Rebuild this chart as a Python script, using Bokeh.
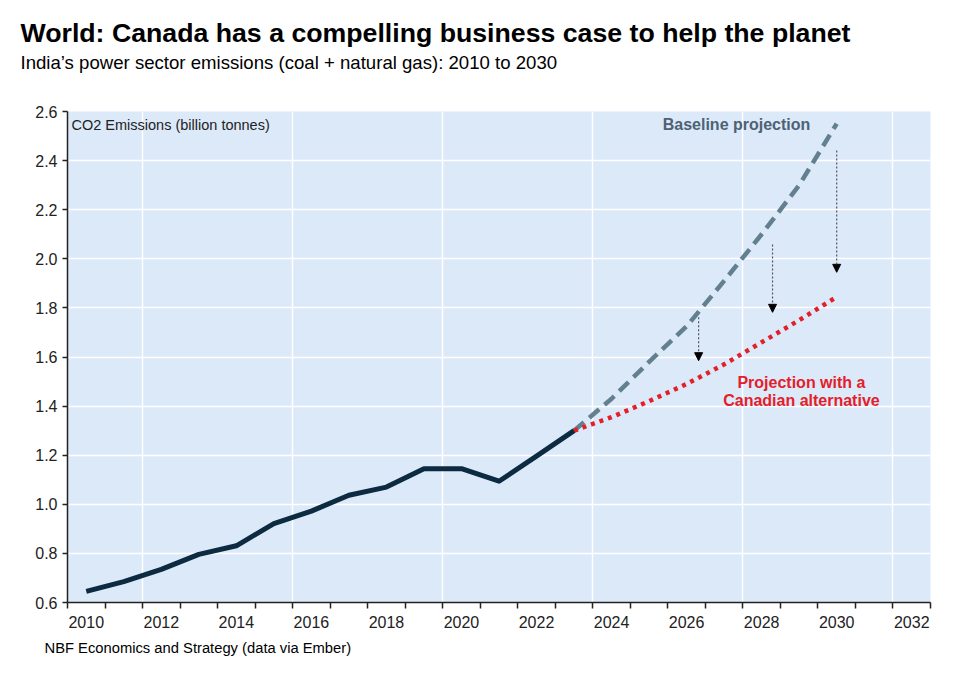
from bokeh.plotting import figure
from bokeh.models import (Range1d, FixedTicker, PrintfTickFormatter, Label, Arrow, NormalHead, Title)
from bokeh.embed import file_html
from bokeh.resources import INLINE

# ---- data ----
hist_years = [2010, 2011, 2012, 2013, 2014, 2015, 2016, 2017, 2018, 2019, 2020, 2021, 2022, 2023]
hist_values = [0.645, 0.685, 0.735, 0.796, 0.831, 0.921, 0.972, 1.037, 1.070, 1.145, 1.145, 1.094, 1.196, 1.300]

proj_years = [2023, 2024, 2025, 2026, 2027, 2028, 2029, 2030]
baseline_values = [1.300, 1.430, 1.580, 1.725, 1.910, 2.100, 2.300, 2.550]
canadian_values = [1.300, 1.355, 1.420, 1.490, 1.570, 1.660, 1.750, 1.845]

x_label_years = [2010, 2012, 2014, 2016, 2018, 2020, 2022, 2024, 2026, 2028, 2030, 2032]
y_ticks = [0.6, 0.8, 1.0, 1.2, 1.4, 1.6, 1.8, 2.0, 2.2, 2.4, 2.6]

# arrows: (x, y_start, y_end)
arrow_x = [2026.32, 2028.29, 2030.0]
arrow_y_start = [1.762, 2.058, 2.441]
arrow_y_end = [1.585, 1.782, 1.945]

title_text = "World: Canada has a compelling business case to help the planet"
subtitle_text = "India\u2019s power sector emissions (coal + natural gas): 2010 to 2030"
source_text = "NBF Economics and Strategy (data via Ember)"
unit_text = "CO2 Emissions (billion tonnes)"

FONT = "Liberation Sans"
BG = "#dce9f9"

W, H = 952, 676
p = figure(width=W, height=H, output_backend="svg", toolbar_location=None,
           x_range=Range1d(2009.5, 2032.5), y_range=Range1d(0.6, 2.6),
           min_border_left=67, min_border_right=22, min_border_top=111, min_border_bottom=74,
           background_fill_color=BG, border_fill_color="white", outline_line_color=None)

# titles (panels stack upward from the frame: spacer, subtitle, title)
p.title.text = title_text
p.title.align = "left"
p.title.offset = -47
p.title.text_font = FONT
p.title.text_font_size = "26.7px"
p.title.text_font_style = "bold"
p.title.text_color = "black"
p.title.standoff = 3.4

p.add_layout(Title(text=" ", text_font_size="1px", standoff=35.5), "above")
p.add_layout(Title(text=subtitle_text, align="left", offset=-47, text_font=FONT,
                   text_font_size="18.6px", text_font_style="normal", text_color="black",
                   standoff=0), "above")
p.add_layout(Title(text=source_text, align="left", offset=-23, text_font=FONT,
                   text_font_size="14.75px", text_font_style="normal", text_color="black",
                   standoff=15), "below")

# grids
p.xgrid.ticker = FixedTicker(ticks=[2011.5, 2015.5, 2019.5, 2023.5, 2027.5, 2031.5])
p.xgrid.grid_line_color = "white"
p.xgrid.grid_line_width = 1.5
p.ygrid.ticker = FixedTicker(ticks=y_ticks)
p.ygrid.grid_line_color = "white"
p.ygrid.grid_line_width = 1.5

# x axis
xa = p.xaxis[0]
xa.ticker = FixedTicker(ticks=x_label_years, minor_ticks=[y - 0.5 for y in range(2010, 2034)])
xa.major_tick_out = 0
xa.major_tick_in = 0
xa.minor_tick_out = 6
xa.minor_tick_in = 0
xa.minor_tick_line_color = "#222222"
xa.minor_tick_line_width = 1.5
xa.axis_line_color = "#222222"
xa.axis_line_width = 1.5
xa.major_label_text_font = FONT
xa.major_label_text_font_size = "16px"
xa.major_label_text_color = "#222222"
xa.major_label_standoff = 7

ya = p.yaxis[0]
ya.ticker = FixedTicker(ticks=y_ticks)
ya.formatter = PrintfTickFormatter(format="%.1f")
ya.major_tick_out = 5
ya.major_tick_in = 0
ya.minor_tick_out = 0
ya.minor_tick_in = 0
ya.major_tick_line_color = "#222222"
ya.major_tick_line_width = 1.5
ya.axis_line_color = "#222222"
ya.axis_line_width = 1.5
ya.major_label_text_font = FONT
ya.major_label_text_font_size = "16px"
ya.major_label_text_color = "#222222"
ya.major_label_standoff = 5

# lines
p.line(proj_years, baseline_values, line_color="#62808f", line_width=4.5, line_dash="13 7")
p.line(proj_years, canadian_values, line_color="#e3202a", line_width=4.5, line_dash="4 5")
p.line(hist_years, hist_values, line_color="#0c2a40", line_width=5, line_join="round")

# arrows
for ax, ys, ye in zip(arrow_x, arrow_y_start, arrow_y_end):
    p.add_layout(Arrow(end=NormalHead(size=8, fill_color="black", line_color="black", line_width=1),
                       x_start=ax, y_start=ys, x_end=ax, y_end=ye,
                       line_color="#555555", line_width=1.2, line_dash="2 2"))

# in-plot texts
p.add_layout(Label(x=2009.5, y=2.547, x_offset=4, text=unit_text, text_font=FONT,
                   text_font_size="14.5px", text_color="#222222", text_baseline="middle"))
p.add_layout(Label(x=2027.33, y=2.547, text="Baseline projection", text_font=FONT,
                   text_font_size="16px", text_font_style="bold", text_color="#4d6274",
                   text_align="center", text_baseline="middle"))
p.add_layout(Label(x=2029.06, y=1.497, text="Projection with a", text_font=FONT,
                   text_font_size="16px", text_font_style="bold", text_color="#e3202a",
                   text_align="center", text_baseline="middle"))
p.add_layout(Label(x=2029.06, y=1.422, text="Canadian alternative", text_font=FONT,
                   text_font_size="16px", text_font_style="bold", text_color="#e3202a",
                   text_align="center", text_baseline="middle"))

open("out.html", "w").write(file_html(p, INLINE))
